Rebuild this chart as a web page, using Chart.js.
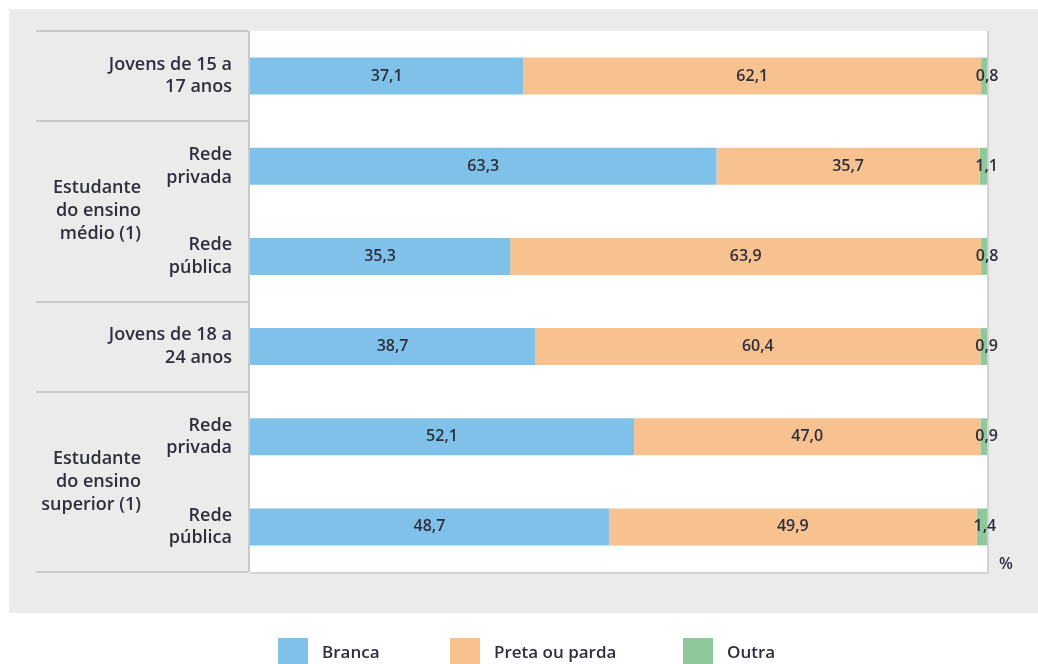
<!DOCTYPE html>
<html>
<head>
<meta charset="utf-8">
<script src="https://cdn.jsdelivr.net/npm/chart.js@4/dist/chart.umd.min.js"></script>
<style>
  body { margin: 0; background: #fff; }
  #wrap { width: 1038px; height: 664px; }
</style>
</head>
<body>
<div id="wrap"><canvas id="raceChart" width="1038" height="664"></canvas></div>
<script>
const rowLabels = [
    ['Jovens de 15 a', '17 anos'],
    ['Rede', 'privada'],
    ['Rede', 'pública'],
    ['Jovens de 18 a', '24 anos'],
    ['Rede', 'privada'],
    ['Rede', 'pública']
];
const branca = [37.1, 63.3, 35.3, 38.7, 52.1, 48.7];
const pretaParda = [62.1, 35.7, 63.9, 60.4, 47.0, 49.9];
const outra = [0.8, 1.1, 0.8, 0.9, 0.9, 1.4];

// outer group labels and the rows they span
const groupLabels = [
    ['Estudante', 'do ensino', 'médio (1)'],
    ['Estudante', 'do ensino', 'superior (1)']
];
const groupRows = [[1, 2], [4, 5]];
// category boundaries where separator lines go
const groupBreaks = [0, 1, 3, 4, 6];

const textColor = '#2e2e3c';
const fontFamily = '"Open Sans", Roboto, sans-serif';

const fmt = v => v.toFixed(1).replace('.', ',');

const framePlugin = {
    id: 'frame',
    beforeDraw(chart) {
        const { ctx, chartArea: a } = chart;
        const yScale = chart.scales.y;
        ctx.save();
        // gray panel
        ctx.fillStyle = '#ebebeb';
        ctx.fillRect(9, 9, 1029, 604);
        // white plot area
        ctx.fillStyle = '#ffffff';
        ctx.fillRect(a.left, a.top, a.right - a.left, a.bottom - a.top);
        ctx.strokeStyle = '#d2d2d2';
        ctx.lineWidth = 2;
        ctx.beginPath();
        ctx.moveTo(a.right + 1, a.top);
        ctx.lineTo(a.right + 1, a.bottom + 1);
        ctx.lineTo(a.left, a.bottom + 1);
        ctx.stroke();
        // left vertical line
        ctx.strokeStyle = '#c9c9c9';
        ctx.beginPath();
        ctx.moveTo(a.left - 1, a.top);
        ctx.lineTo(a.left - 1, a.bottom);
        ctx.stroke();
        // separators
        groupBreaks.forEach(b => {
            const y = Math.round(yScale.getPixelForValue(b - 0.5));
            ctx.beginPath();
            ctx.moveTo(36, y);
            ctx.lineTo(a.left - 2, y);
            ctx.stroke();
        });
        ctx.restore();
    },
    afterDraw(chart) {
        const { ctx } = chart;
        const yScale = chart.scales.y;
        ctx.save();
        // group labels
        ctx.fillStyle = textColor;
        ctx.font = '600 18px ' + fontFamily;
        ctx.textAlign = 'right';
        ctx.textBaseline = 'middle';
        groupLabels.forEach((lines, i) => {
            const r = groupRows[i];
            const yc = (yScale.getPixelForValue(r[0]) + yScale.getPixelForValue(r[1])) / 2;
            const lh = 23;
            lines.forEach((t, j) => {
                ctx.fillText(t, 141, yc + (j - (lines.length - 1) / 2) * lh);
            });
        });
        // value labels
        ctx.font = '600 16px ' + fontFamily;
        ctx.textAlign = 'center';
        chart.data.datasets.forEach((ds, di) => {
            chart.getDatasetMeta(di).data.forEach((bar, i) => {
                const cx = (bar.x + bar.base) / 2;
                ctx.fillText(fmt(ds.data[i]), cx + (di === 2 ? 3 : 0), bar.y);
            });
        });
        // percent sign
        ctx.fillText('%', 1006, 564);
        // legend
        const legendX = [278, 450, 683];
        chart.data.datasets.forEach((ds, di) => {
            const x = legendX[di];
            ctx.fillStyle = ds.backgroundColor;
            ctx.fillRect(x, 638, 30, 30);
            ctx.fillStyle = textColor;
            ctx.font = '600 17px ' + fontFamily;
            ctx.textAlign = 'left';
            ctx.fillText(ds.label, x + 44, 653);
        });
        ctx.restore();
    }
};

new Chart(document.getElementById('raceChart').getContext('2d'), {
    type: 'bar',
    data: {
        labels: rowLabels,
        datasets: [
            { label: 'Branca', data: branca, backgroundColor: '#7fc1e9' },
            { label: 'Preta ou parda', data: pretaParda, backgroundColor: '#f8c290' },
            { label: 'Outra', data: outra, backgroundColor: '#8fc99b' }
        ]
    },
    options: {
        indexAxis: 'y',
        responsive: false,
        animation: false,
        categoryPercentage: 1,
        barPercentage: 0.41,
        layout: { padding: { left: 0, top: 31, right: 51, bottom: 92 } },
        scales: {
            x: {
                stacked: true,
                min: 0,
                max: 100,
                display: false
            },
            y: {
                stacked: true,
                afterFit(scale) {
                    scale.width = 250;
                    scale.paddingTop = 0;
                    scale.paddingBottom = 0;
                },
                grid: { display: false, drawTicks: false },
                border: { display: false },
                ticks: {
                    color: textColor,
                    padding: 18,
                    font: { family: fontFamily, size: 18, weight: '600', lineHeight: 1.25 }
                }
            }
        },
        plugins: {
            legend: { display: false },
            tooltip: { enabled: false }
        }
    },
    plugins: [framePlugin]
});
</script>
</body>
</html>
